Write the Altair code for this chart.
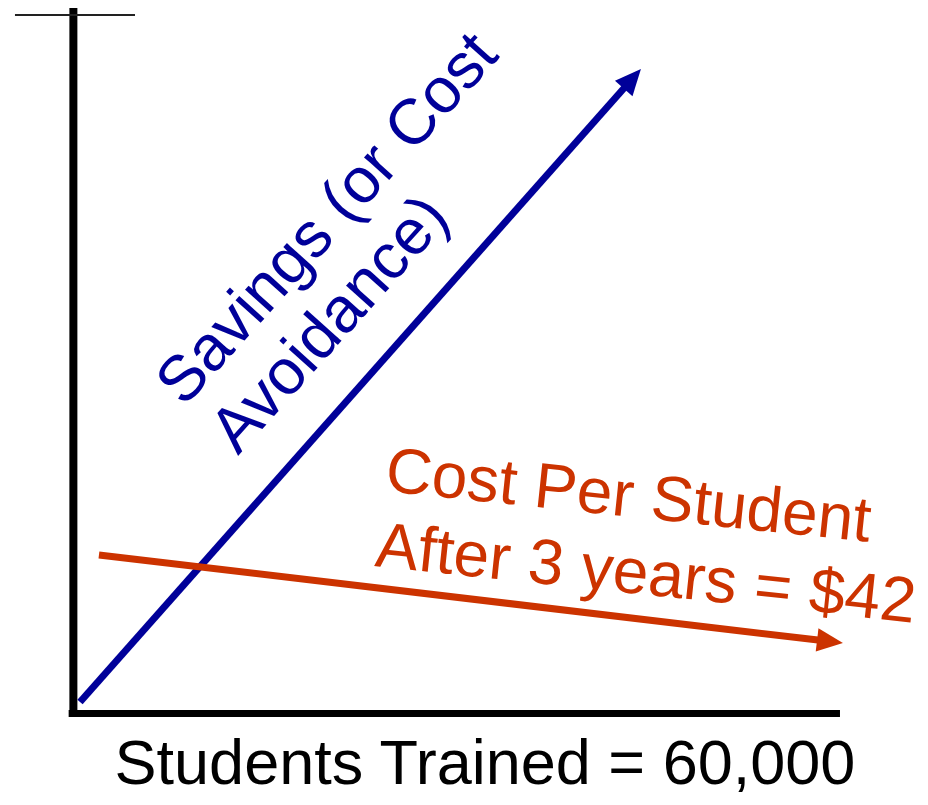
import math
import altair as alt
import pandas as pd

# ---- data (x: students trained, thousands; y: value, arbitrary units) ----
axis_h_x = [0.0, 60.0]          # horizontal axis extent
axis_h_y = -0.07
axis_v_x = 0.03
axis_v_y = [-0.57, 101.0]       # vertical axis extent
cap_x = [-4.54, 4.85]           # short cross line at top of vertical axis
cap_y = 100.0

savings_x = [0.55, 44.43]
savings_y = [1.58, 92.26]
cost_x = [2.03, 60.23]
cost_y = [22.64, 10.03]

label_text = ["Savings (or Cost", "Avoidance)", "Cost Per Student",
              "After 3 years = $42", "Students Trained = 60,000"]
label_group = ["savings", "savings", "cost", "cost", "axis"]
label_x = [8.68, 12.91, 24.33, 23.55, 3.25]
label_y = [43.70, 36.82, 31.81, 21.06, -10.10]

# ---- layout / style ----
W, H = 912, 789
X_DOM = [-5.085, 66.26]
Y_DOM = [-12.03, 101.0]
kx = W / (X_DOM[1] - X_DOM[0])
ky = H / (Y_DOM[1] - Y_DOM[0])
BLUE, RED, BLACK = "#000099", "#CC3300", "#000000"
FONT = "Liberation Sans"
group_color = {"savings": BLUE, "cost": RED, "axis": BLACK}
group_angle = {"savings": 312, "cost": 6, "axis": 0}
group_size = {"savings": 64, "cost": 64, "axis": 63}

xs = alt.Scale(domain=X_DOM, nice=False, zero=False)
ys = alt.Scale(domain=Y_DOM, nice=False, zero=False)


def arrow_geom(px, py, head_len=26):
    dxp = (px[1] - px[0]) * kx
    dyp = -(py[1] - py[0]) * ky
    n = math.hypot(dxp, dyp)
    ux, uy = dxp / n, dyp / n
    ang = math.degrees(math.atan2(ux, -uy)) % 360
    cx = px[1] - head_len / 2 * ux / kx
    cy = py[1] + head_len / 2 * uy / ky
    ex = px[1] - (head_len - 3) * ux / kx
    ey = py[1] + (head_len - 3) * uy / ky
    return ang, cx, cy, ex, ey


layers = []

# axes
v_df = pd.DataFrame({"x": [axis_v_x], "y": [axis_v_y[0]], "y2": [axis_v_y[1]]})
layers.append(alt.Chart(v_df).mark_rule(color=BLACK, strokeWidth=8).encode(
    x=alt.X("x:Q", scale=xs, axis=None), y=alt.Y("y:Q", scale=ys, axis=None), y2="y2:Q"))
h_df = pd.DataFrame({"x": [axis_h_x[0] - 0.34], "x2": [axis_h_x[1]], "y": [axis_h_y]})
layers.append(alt.Chart(h_df).mark_rule(color=BLACK, strokeWidth=7).encode(
    x=alt.X("x:Q", scale=xs, axis=None), x2="x2:Q", y=alt.Y("y:Q", scale=ys, axis=None)))
c_df = pd.DataFrame({"x": [cap_x[0]], "x2": [cap_x[1]], "y": [cap_y]})
layers.append(alt.Chart(c_df).mark_rule(color="#222222", strokeWidth=2).encode(
    x=alt.X("x:Q", scale=xs, axis=None), x2="x2:Q", y=alt.Y("y:Q", scale=ys, axis=None)))

# arrows
for px, py, col, sw in [(savings_x, savings_y, BLUE, 7), (cost_x, cost_y, RED, 7)]:
    ang, cx, cy, ex, ey = arrow_geom(px, py)
    ldf = pd.DataFrame({"x": [px[0], ex], "y": [py[0], ey], "o": [0, 1]})
    layers.append(alt.Chart(ldf).mark_line(color=col, strokeWidth=sw).encode(
        x=alt.X("x:Q", scale=xs, axis=None), y=alt.Y("y:Q", scale=ys, axis=None),
        order="o:Q"))
    hdf = pd.DataFrame({"x": [cx], "y": [cy], "a": [ang]})
    layers.append(alt.Chart(hdf).mark_point(
        shape="M0,-1L0.9,1L-0.9,1Z", size=676, filled=True, color=col,
        opacity=1, strokeWidth=0).encode(
        x=alt.X("x:Q", scale=xs, axis=None), y=alt.Y("y:Q", scale=ys, axis=None),
        angle=alt.Angle("a:Q", scale=None)))

# labels
tdf = pd.DataFrame({"t": label_text, "g": label_group, "x": label_x, "y": label_y})
tdf["a"] = tdf["g"].map(group_angle)
tdf["s"] = tdf["g"].map(group_size)
layers.append(alt.Chart(tdf).mark_text(
    align="left", baseline="alphabetic", font=FONT).encode(
    x=alt.X("x:Q", scale=xs, axis=None), y=alt.Y("y:Q", scale=ys, axis=None),
    text="t:N", angle=alt.Angle("a:Q", scale=None),
    size=alt.Size("s:Q", scale=None),
    color=alt.Color("g:N", scale=alt.Scale(domain=list(group_color.keys()),
                                          range=list(group_color.values())),
                    legend=None)))

chart = alt.layer(*layers).properties(
    width=W, height=H, padding=0,
    autosize=alt.AutoSizeParams(type="none"),
    background="white",
).configure_view(stroke=None)

chart.save("out.html", embed_options={"renderer": "svg", "actions": False})
